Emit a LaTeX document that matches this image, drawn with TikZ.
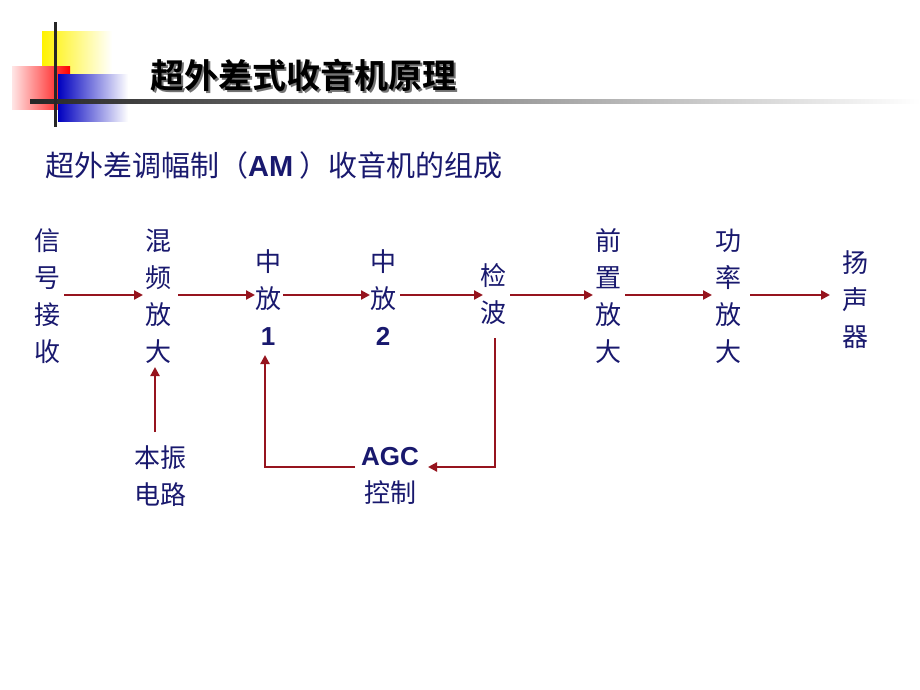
\documentclass[tikz,border=0pt]{standalone}
\usepackage{fontspec}
\setmainfont{Noto Sans CJK SC}
\newfontfamily\cjkb{Noto Sans CJK SC Bold}
\newfontfamily\arl{Liberation Sans}
\usetikzlibrary{arrows.meta}
\definecolor{tb}{RGB}{25,25,110}
\definecolor{ar}{RGB}{150,20,30}
\tikzset{lbl/.style={text=tb,font=\fontsize{26}{37}\selectfont,align=center,inner sep=0pt},
 arr/.style={draw=ar,line width=2.2pt,-{Triangle[length=9pt,width=9pt]}}}
\begin{document}
\begin{tikzpicture}[x=1pt,y=-1pt]
\useasboundingbox[fill=white] (0,0) rectangle (920,690);
% decoration
\shade[left color=yellow!90!orange,right color=white] (42,32) rectangle (112,75);
\shade[left color=red!10,right color=red] (12,67) rectangle (70,110);
\shade[left color=blue!75!black,right color=white] (58,75) rectangle (128,122);
\shade[left color=black!85,right color=white] (30,100) rectangle (920,104);
\fill[black!85] (54,22) rectangle (57,127);
\node[font=\cjkb\fontsize{34}{36}\selectfont,anchor=west,text=black!55,inner sep=0pt] at (152,77) {超外差式收音机原理};
\node (title) [font=\cjkb\fontsize{34}{36}\selectfont,anchor=west,inner sep=0pt] at (150,75) {超外差式收音机原理};
\node (sub) [lbl,font=\fontsize{29}{32}\selectfont,anchor=west] at (45,165) {超外差调幅制（{\arl\bfseries AM} ）收音机的组成};
% blocks
\node (a) [lbl] at (47,296) {信\\号\\接\\收};
\node (b) [lbl] at (158,296) {混\\频\\放\\大};
\node (c) [lbl] at (268,298) {中\\放\\{\arl\bfseries 1}};
\node (d) [lbl] at (383,298) {中\\放\\{\arl\bfseries 2}};
\node (e) [lbl] at (493,294) {检\\波};
\node (f) [lbl] at (608,296) {前\\置\\放\\大};
\node (g) [lbl] at (728,296) {功\\率\\放\\大};
\node (h) [lbl] at (855,300) {扬\\声\\器};
\node (lo) [lbl] at (160,476) {本振\\电路};
\node (agc) [lbl] at (390,476) {{\arl\bfseries AGC}\\控制};
\draw[arr] (64,295) -- (143,295);
\draw[arr] (178,295) -- (255,295);
\draw[arr] (283,295) -- (370,295);
\draw[arr] (400,295) -- (483,295);
\draw[arr] (510,295) -- (593,295);
\draw[arr] (625,295) -- (712,295);
\draw[arr] (750,295) -- (830,295);
\draw[arr] (155,432) -- (155,367);
\draw[arr] (495,338) -- (495,467) -- (428,467);
\draw[arr] (355,467) -- (265,467) -- (265,355);
\end{tikzpicture}
\end{document}
